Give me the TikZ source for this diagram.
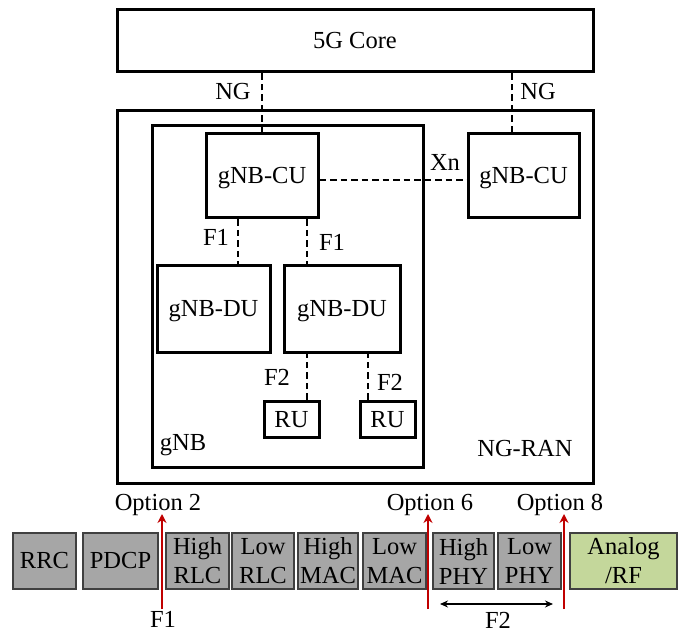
\documentclass[tikz,border=0pt]{standalone}
\usepackage{fontspec}
\setmainfont{Liberation Serif}
\usetikzlibrary{arrows.meta}
\definecolor{layergray}{HTML}{A6A6A6}
\definecolor{rfgreen}{HTML}{C4D79B}
\definecolor{splitred}{HTML}{C00000}
\newcommand{\boxw}{3pt}
\newcommand{\ifw}{2.8pt}

\begin{document}
\begin{tikzpicture}[x=1pt, y=-1pt, font=\fontsize{24.5}{29}\selectfont]
                %\draw[help lines, step=10] (0,0) grid (686,631);
                \useasboundingbox (0,0) rectangle (686,631);
                \tikzset{box/.style = {draw, line width=\boxw, inner sep=0pt, text height=16pt, text depth=0pt}}
                \tikzset{layer/.style = {draw=black!75, line width=1.2pt, fill=layergray, inner sep=0pt, align=center, minimum height=56}}
                \tikzset{lbl/.style = {inner sep=0pt, text height=16pt, text depth=0pt}}
                \tikzset{iface/.style = {line width=\ifw, dash pattern=on 6.5pt off 4pt}}
                \tikzset{split/.style = {draw=splitred, line width=2pt, -{Stealth[length=9pt, width=9pt, inset=3pt]}}}

                % core and RAN
                \node[box, minimum width=476, minimum height=62] (core) at (355,41) {5G Core};
                \node[box, minimum width=476, minimum height=372] (ran) at (355,297) {};
                \node[box, minimum width=271, minimum height=341] (gnb) at (287.5,296.5) {};
                \node[lbl] (ranlbl) at (525,448) {NG-RAN};
                \node[lbl] (gnblbl) at (183,442) {gNB};

                % CU, DU and RU
                \node[box, minimum width=112, minimum height=84] (cuA) at (262,176) {gNB-CU};
                \node[box, minimum width=111, minimum height=84] (cuB) at (523.5,176) {gNB-CU};
                \node[box, minimum width=113, minimum height=86] (duA) at (213.5,309) {gNB-DU};
                \node[box, minimum width=116, minimum height=86] (duB) at (342,309) {gNB-DU};
                \node[box, minimum width=55, minimum height=36] (ruA) at (291.5,419) {RU};
                \node[box, minimum width=55, minimum height=36] (ruB) at (387.5,419) {RU};

                % interfaces
                \draw[iface] (cuA.north) -- (cuA.north |- core.south);
                \draw[iface] ([xshift=-11.5pt]cuB.north) -- ([xshift=-11.5pt]cuB.north |- core.south);
                \draw[iface] ([yshift=-4pt]cuA.east) -- ([yshift=-4pt]cuB.west);
                \draw[iface] ([xshift=-24pt]cuA.south) -- ([xshift=-24pt]cuA.south |- duA.north);
                \draw[iface] ([xshift=45pt]cuA.south) -- ([xshift=45pt]cuA.south |- duB.north);
                \draw[iface] ([xshift=15.5pt]ruA.north) -- ([xshift=15.5pt]ruA.north |- duB.south);
                \draw[iface] ([xshift=-19.5pt]ruB.north) -- ([xshift=-19.5pt]ruB.north |- duB.south);
                \node[lbl] (ngA) at (233,92) {NG};
                \node[lbl] (ngB) at (538,92) {NG};
                \node[lbl] (xn) at (445,163) {Xn};
                \node[lbl] (f1A) at (216,238) {F1};
                \node[lbl] (f1B) at (332,243) {F1};
                \node[lbl] (f2A) at (277,377) {F2};
                \node[lbl] (f2B) at (390,382) {F2};

                % protocol stack
                \node[layer, minimum width=63] (rrc) at (44.5,561) {RRC};
                \node[layer, minimum width=75] (pdcp) at (120.5,561) {PDCP};
                \node[layer, minimum width=63] (hrlc) at (197.5,561) {High\\RLC};
                \node[layer, minimum width=62] (lrlc) at (263,561) {Low\\RLC};
                \node[layer, minimum width=60] (hmac) at (328,561) {High\\MAC};
                \node[layer, minimum width=63] (lmac) at (394.5,561) {Low\\MAC};
                \node[layer, minimum width=61] (hphy) at (463.5,561) {High\\PHY};
                \node[layer, minimum width=63] (lphy) at (529.5,561) {Low\\PHY};
                \node[layer, minimum width=107, fill=rfgreen] (rf) at (623.5,561) {Analog\\/RF};

                % split options
                \node[lbl] (opt2) at (158,502) {Option 2};
                \node[lbl] (opt6) at (430,502) {Option 6};
                \node[lbl] (opt8) at (560,502) {Option 8};
                \node[lbl] (f1lbl) at (163,619) {F1};
                \node[lbl] (f2lbl) at (498,620) {F2};
                \coordinate (s2a) at (162,609);
                \coordinate (s2b) at (162,514);
                \coordinate (s6a) at (428,609);
                \coordinate (s6b) at (428,514);
                \coordinate (s8a) at (564,609);
                \coordinate (s8b) at (564,514);
                \draw[split] (s2a) -- (s2b);
                \draw[split] (s6a) -- (s6b);
                \draw[split] (s8a) -- (s8b);
                \coordinate (f2l) at (440,604);
                \coordinate (f2r) at (553,604);
                \draw[line width=1.5pt, {Stealth[length=8pt, width=7pt]}-{Stealth[length=8pt, width=7pt]}] (f2l) -- (f2r);
        \end{tikzpicture}
\end{document}
